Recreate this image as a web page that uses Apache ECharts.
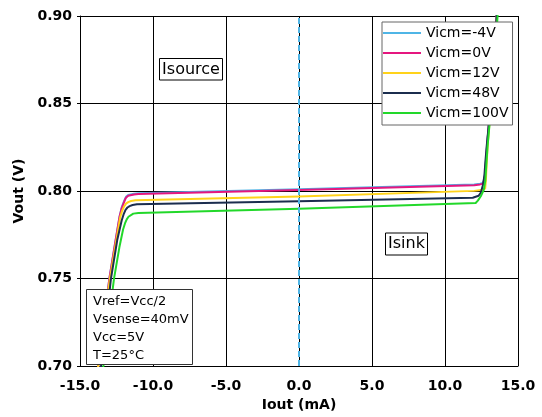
<!DOCTYPE html>
<html>
<head>
<meta charset="utf-8">
<script src="https://cdn.jsdelivr.net/npm/echarts@6/dist/echarts.min.js"></script>
<style>
html,body{margin:0;padding:0;background:#fff;}
#c{width:542px;height:417px;}
</style>
</head>
<body>
<div id="c"></div>
<script>
// ---- data ----
var xTicks = [-15, -10, -5, 0, 5, 10, 15];
var yTicks = [0.70, 0.75, 0.80, 0.85, 0.90];
var seriesNames = ['Vicm=-4V', 'Vicm=0V', 'Vicm=12V', 'Vicm=48V', 'Vicm=100V'];
var seriesColors = ['#4FB5E6', '#E5167F', '#FFD21A', '#1B2D4E', '#22D82A'];

var iout_m4  = [-13.9, -13.75, -13.35, -12.99, -12.6, -12.3, -12.15, -12.03, -11.92, -11.85, -11.7, -11.58, -11.3, -11.0, 0, 12.0, 12.4, 12.6, 12.68, 12.74, 12.8, 12.88, 13.0, 13.19, 13.35, 13.53, 13.6];
var vout_m4  = [0.69, 0.70, 0.726, 0.75, 0.770, 0.785, 0.7905, 0.7932, 0.7955, 0.7967, 0.7978, 0.7982, 0.7985, 0.7988, 0.8010, 0.8037, 0.8042, 0.8046, 0.8065, 0.810, 0.817, 0.826, 0.838, 0.853, 0.872, 0.899, 0.910];

var iout_0   = [-13.9, -13.75, -13.35, -12.99, -12.6, -12.3, -12.15, -12.03, -11.92, -11.85, -11.7, -11.58, -11.3, -11.0, 0, 12.0, 12.4, 12.6, 12.68, 12.74, 12.8, 12.88, 13.0, 13.19, 13.35, 13.53, 13.6];
var vout_0   = [0.69, 0.70, 0.726, 0.75, 0.770, 0.785, 0.790, 0.7927, 0.795, 0.7962, 0.7973, 0.7977, 0.798, 0.7983, 0.8006, 0.8033, 0.8038, 0.8042, 0.806, 0.8095, 0.8165, 0.8255, 0.838, 0.853, 0.872, 0.899, 0.910];

var iout_12  = [-13.9, -13.75, -13.35, -12.95, -12.55, -12.25, -12.1, -11.98, -11.85, -11.7, -11.5, -11.2, 0, 12.0, 12.6, 12.75, 12.8, 12.85, 12.92, 13.05, 13.22, 13.38, 13.55, 13.62];
var vout_12  = [0.69, 0.70, 0.726, 0.75, 0.770, 0.785, 0.789, 0.7912, 0.7928, 0.7937, 0.7943, 0.7948, 0.7969, 0.8001, 0.8007, 0.8015, 0.806, 0.815, 0.826, 0.839, 0.854, 0.873, 0.899, 0.910];

var iout_48  = [-13.72, -13.56, -13.2, -12.88, -12.45, -12.15, -12.0, -11.88, -11.75, -11.6, -11.4, -11.1, 0, 11.9, 12.3, 12.45, 12.6, 12.7, 12.77, 12.86, 13.0, 13.19, 13.35, 13.53, 13.6];
var vout_48  = [0.69, 0.70, 0.726, 0.75, 0.772, 0.783, 0.787, 0.7893, 0.7906, 0.7914, 0.792, 0.7925, 0.7942, 0.7962, 0.7973, 0.799, 0.8035, 0.809, 0.817, 0.826, 0.838, 0.853, 0.872, 0.899, 0.910];

var iout_100 = [-13.55, -13.4, -13.05, -12.67, -12.3, -12.05, -11.92, -11.8, -11.68, -11.55, -11.35, -11.0, 0, 12.1, 12.25, 12.45, 12.65, 12.76, 12.83, 12.92, 13.06, 13.25, 13.42, 13.6, 13.68];
var vout_100 = [0.69, 0.70, 0.725, 0.75, 0.768, 0.778, 0.7815, 0.7838, 0.7853, 0.7863, 0.7871, 0.7875, 0.7899, 0.7932, 0.7945, 0.797, 0.8005, 0.806, 0.815, 0.826, 0.839, 0.855, 0.875, 0.900, 0.911];

var ioutSets = [iout_m4, iout_0, iout_12, iout_48, iout_100];
var voutSets = [vout_m4, vout_0, vout_12, vout_48, vout_100];

var FONT = 'DejaVu Sans';

var series = seriesNames.map(function (name, k) {
  return {
    name: name,
    type: 'line',
    data: ioutSets[k].map(function (x, i) { return [x, voutSets[k][i]]; }),
    showSymbol: false,
    symbol: 'none',
    smooth: false,
    lineStyle: { color: seriesColors[k], width: 2, join: 'round' },
    itemStyle: { color: seriesColors[k] },
    clip: true,
    z: 2
  };
});
series[0].markLine = {
  silent: true,
  symbol: 'none',
  label: { show: false },
  lineStyle: { color: seriesColors[0], width: 2, type: [6, 3] },
  data: [{ xAxis: 0 }]
};

var chart = echarts.init(document.getElementById('c'), null, { renderer: 'canvas' });
chart.setOption({
  animation: false,
  backgroundColor: '#ffffff',
  grid: { left: 80, top: 16, right: 24, bottom: 45, containLabel: false },
  xAxis: {
    type: 'value',
    min: xTicks[0], max: xTicks[xTicks.length - 1], interval: 5,
    name: 'Iout (mA)', nameLocation: 'middle', nameGap: 30,
    nameTextStyle: { fontFamily: FONT, fontWeight: 'bold', fontSize: 14, color: '#000' },
    axisLine: { onZero: false, lineStyle: { color: '#000', width: 1 } },
    axisTick: { show: false },
    axisLabel: { fontFamily: FONT, fontWeight: 'bold', fontSize: 14, color: '#000', margin: 13,
      formatter: function (v) { return v.toFixed(1); } },
    splitLine: { show: true, lineStyle: { color: '#000', width: 1 } }
  },
  yAxis: {
    type: 'value',
    min: yTicks[0], max: yTicks[yTicks.length - 1], interval: 0.05,
    name: 'Vout (V)', nameLocation: 'middle', nameGap: 52, nameRotate: 90,
    nameTextStyle: { fontFamily: FONT, fontWeight: 'bold', fontSize: 14, color: '#000' },
    axisLine: { show: true, onZero: false, lineStyle: { color: '#000', width: 1 } },
    axisTick: { show: true, length: 3, lineStyle: { color: '#000' } },
    axisLabel: { fontFamily: FONT, fontWeight: 'bold', fontSize: 14, color: '#000', margin: 8,
      formatter: function (v) { return v.toFixed(2); } },
    splitLine: { show: true, lineStyle: { color: '#000', width: 1 } }
  },
  legend: {
    orient: 'vertical',
    left: 382, top: 22,
    padding: [3, 4, 4, 1],
    itemWidth: 38, itemHeight: 2, itemGap: 4,
    icon: 'rect',
    backgroundColor: '#ffffff',
    borderColor: '#666666', borderWidth: 1,
    textStyle: { fontFamily: FONT, fontSize: 14, color: '#000', lineHeight: 16 },
    data: seriesNames
  },
  graphic: [
    { type: 'rect', z: 100, shape: { x: 159.5, y: 58.5, width: 63, height: 21.5 },
      style: { fill: '#fff', stroke: '#000', lineWidth: 1 } },
    { type: 'text', z: 101, x: 191, y: 69.5,
      style: { text: 'Isource', font: '16px "DejaVu Sans"', fill: '#000', align: 'center', verticalAlign: 'middle' } },
    { type: 'rect', z: 100, shape: { x: 385.5, y: 233, width: 42, height: 22 },
      style: { fill: '#fff', stroke: '#000', lineWidth: 1 } },
    { type: 'text', z: 101, x: 406.5, y: 244,
      style: { text: 'Isink', font: '16px "DejaVu Sans"', fill: '#000', align: 'center', verticalAlign: 'middle' } },
    { type: 'rect', z: 100, shape: { x: 86.5, y: 289.5, width: 106, height: 75 },
      style: { fill: '#fff', stroke: '#333', lineWidth: 1 } },
    { type: 'text', z: 101, x: 93, y: 301.7,
      style: { text: 'Vref=Vcc/2', font: '13px "DejaVu Sans"', fill: '#000', align: 'left', verticalAlign: 'middle' } },
    { type: 'text', z: 101, x: 93, y: 319.8,
      style: { text: 'Vsense=40mV', font: '13px "DejaVu Sans"', fill: '#000', align: 'left', verticalAlign: 'middle' } },
    { type: 'text', z: 101, x: 93, y: 337.9,
      style: { text: 'Vcc=5V', font: '13px "DejaVu Sans"', fill: '#000', align: 'left', verticalAlign: 'middle' } },
    { type: 'text', z: 101, x: 93, y: 356,
      style: { text: 'T=25°C', font: '13px "DejaVu Sans"', fill: '#000', align: 'left', verticalAlign: 'middle' } }
  ],
  series: series
});
</script>
</body>
</html>
